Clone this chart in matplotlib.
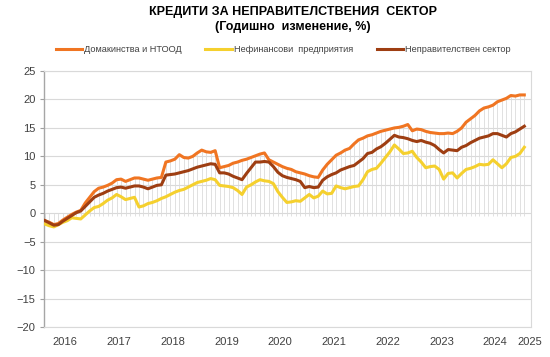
import numpy as np
import matplotlib.pyplot as plt

plt.rcParams['font.family'] = ['Liberation Sans', 'DejaVu Sans']

# monthly data, Jan 2016 - Dec 2024 (annual change, %)
households = [-1.3, -1.6, -2.0, -1.8, -1.2, -0.7, -0.2, 0.2, 0.5, 1.8,
              2.8, 3.8, 4.4, 4.6, 4.9, 5.3, 5.9, 6.0, 5.6, 5.9,
              6.2, 6.2, 6.0, 5.8, 6.0, 6.2, 6.3, 9.0, 9.2, 9.5,
              10.3, 9.8, 9.7, 10.0, 10.6, 11.1, 10.8, 10.7, 11.0, 8.0,
              8.2, 8.4, 8.8, 9.0, 9.3, 9.5, 9.8, 10.1, 10.4, 10.6,
              9.4, 9.0, 8.6, 8.2, 7.9, 7.7, 7.3, 7.1, 6.9, 6.6,
              6.4, 6.3, 7.6, 8.6, 9.4, 10.2, 10.6, 11.1, 11.4, 12.2,
              12.9, 13.2, 13.6, 13.8, 14.1, 14.4, 14.6, 14.8, 15.0, 15.1,
              15.3, 15.6, 14.5, 14.8, 14.7, 14.4, 14.2, 14.1, 14.0, 14.0,
              14.1, 14.0, 14.4, 15.0, 16.0, 16.6, 17.2, 18.0, 18.5, 18.7,
              19.0, 19.6, 19.9, 20.2, 20.7, 20.6, 20.8, 20.8]
companies = [-1.9, -2.2, -2.4, -2.0, -1.6, -1.3, -0.8, -0.9, -1.0, -0.3,
             0.4, 1.0, 1.2, 1.7, 2.3, 2.7, 3.3, 2.9, 2.4, 2.6,
             2.8, 1.1, 1.3, 1.7, 1.9, 2.2, 2.6, 2.9, 3.3, 3.7,
             4.0, 4.2, 4.6, 5.0, 5.4, 5.6, 5.8, 6.1, 5.9, 4.9,
             4.8, 4.7, 4.5, 4.0, 3.3, 4.6, 5.0, 5.5, 5.9, 5.7,
             5.6, 5.2, 3.8, 2.8, 1.9, 2.0, 2.2, 2.1, 2.7, 3.3,
             2.7, 3.0, 3.9, 3.4, 3.5, 4.8, 4.5, 4.3, 4.5, 4.7,
             4.8, 5.9, 7.3, 7.7, 7.9, 8.8, 9.8, 10.8, 12.0, 11.3,
             10.5, 10.6, 10.9, 9.8, 9.0, 8.0, 8.2, 8.3, 7.7, 6.0,
             7.0, 7.1, 6.2, 7.0, 7.7, 7.9, 8.2, 8.6, 8.5, 8.6,
             9.4, 8.7, 8.0, 8.7, 9.8, 10.0, 10.5, 11.6]
private = [-1.3, -1.7, -2.1, -2.0, -1.4, -0.9, -0.4, 0.1, 0.4, 1.2,
           2.0, 2.8, 3.2, 3.5, 3.9, 4.2, 4.5, 4.6, 4.4, 4.6,
           4.8, 4.8, 4.6, 4.3, 4.6, 4.9, 5.0, 6.7, 6.8, 6.9,
           7.1, 7.3, 7.5, 7.8, 8.1, 8.3, 8.5, 8.7, 8.6, 7.1,
           7.1, 6.9, 6.5, 6.2, 5.9, 7.0, 8.0, 9.0, 9.0, 9.1,
           9.0, 8.2, 7.2, 6.6, 6.3, 6.1, 5.9, 5.6, 4.5, 4.7,
           4.5, 4.6, 5.8, 6.4, 6.8, 7.1, 7.6, 7.9, 8.2, 8.4,
           9.0, 9.6, 10.5, 10.7, 11.3, 11.7, 12.3, 13.0, 13.7, 13.4,
           13.3, 13.1, 12.8, 12.6, 12.8, 12.5, 12.3, 11.9, 11.2, 10.6,
           11.2, 11.1, 11.0, 11.6, 11.9, 12.4, 12.8, 13.2, 13.4, 13.6,
           14.0, 14.0, 13.7, 13.4, 14.0, 14.3, 14.8, 15.3]
years = ['2016', '2017', '2018', '2019', '2020', '2021', '2022', '2023', '2024', '2025']

x = np.arange(len(households))
top = np.max([households, companies, private], axis=0)

fig = plt.figure(figsize=(5.5, 3.57), dpi=100)
ax = fig.add_axes([0.08, 0.084, 0.8855, 0.717])

# horizontal grid
for v in range(-20, 30, 5):
    ax.axhline(v, color='#d9d9d9', lw=0.8, zorder=0)

# drop lines + small month ticks under the zero line
ax.vlines(x, np.minimum(top, -0.5), np.maximum(top, 0), color='#dcdcdc', lw=0.6, zorder=1)

ax.plot(x, households, color='#f07522', lw=2.2, zorder=4, label='Домакинства и НТООД')
ax.plot(x, companies, color='#f5d02e', lw=2.2, zorder=3, label='Нефинансови  предприятия')
ax.plot(x, private, color='#9e3e12', lw=2.2, zorder=5, label='Неправителствен сектор')

ax.set_xlim(-0.2, 108.5)
ax.set_ylim(-20, 25)
ax.set_yticks(range(-20, 30, 5))
ax.tick_params(axis='y', labelsize=8, colors='#404040', length=3, width=0.8, color='#a0a0a0', pad=3)
ax.set_xticks([i * 12 + 4.5 for i in range(9)] + [108.2])
ax.set_xticklabels(years)
ax.tick_params(axis='x', labelsize=8, colors='#404040', length=0, pad=7)

for s in ['top', 'right', 'bottom']:
    ax.spines[s].set_color('#d9d9d9')
    ax.spines[s].set_linewidth(0.8)
ax.spines['left'].set_color('#a6a6a6')
ax.spines['left'].set_linewidth(1)

fig.text(0.533, 0.965, 'КРЕДИТИ ЗА НЕПРАВИТЕЛСТВЕНИЯ  СЕКТОР', ha='center', va='center',
         fontsize=9, fontweight='bold')
fig.text(0.533, 0.925, '(Годишно  изменение, %)', ha='center', va='center',
         fontsize=9, fontweight='bold')

fig.legend(loc='center', bbox_to_anchor=(0.515, 0.862), ncol=3, frameon=False,
           fontsize=6.6, labelcolor='#404040', handlelength=2.85, handletextpad=0.25,
           columnspacing=2.6)

fig.savefig('out.png', dpi=100)
